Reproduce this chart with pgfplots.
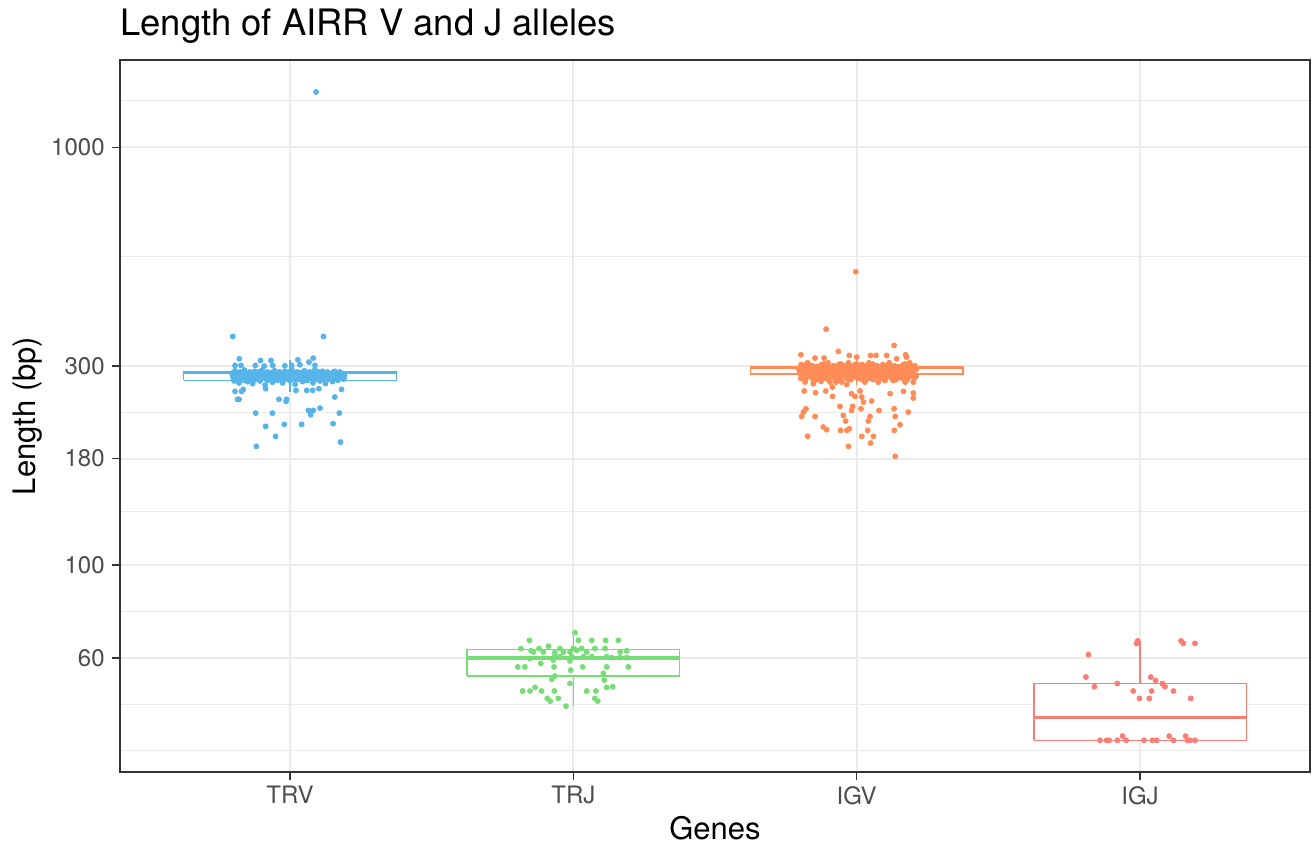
\documentclass[border=0pt]{standalone}
\usepackage{fontspec}
\setmainfont{TeX Gyre Heros}
\usepackage{pgfplots}
\pgfplotsset{compat=1.18}

\definecolor{cTRV}{RGB}{86,180,233}
\definecolor{cTRJ}{RGB}{119,221,119}
\definecolor{cIGV}{RGB}{255,140,87}
\definecolor{cIGJ}{RGB}{250,125,118}
\definecolor{gridc}{RGB}{235,235,235}
\definecolor{tickc}{RGB}{77,77,77}
\definecolor{framec}{RGB}{51,51,51}

\begin{document}
\begin{tikzpicture}
\begin{axis}[
  name=ax,
  scale only axis, width=595pt, height=356pt,
  xmin=0.4, xmax=4.6,
  ymode=log, log basis y=10, ymin=32, ymax=1618,
  xtick={1,2,3,4}, xticklabels={TRV,TRJ,IGV,IGJ},
  ytick={60,100,180,300,1000}, yticklabels={60,100,180,300,1000},
  minor ytick={36,46.48,77.46,134.16,232.38,547.72,1293},
  minor xtick={},
  xmajorgrids, ymajorgrids, yminorgrids,
  major grid style={draw=gridc, line width=1pt},
  minor grid style={draw=gridc, line width=0.55pt},
  tick align=outside, major tick length=4pt, minor tick length=0pt,
  xtick pos=bottom, ytick pos=left,
  tick style={draw=framec, line width=0.8pt},
  axis line style={draw=framec, line width=0.8pt},
  ticklabel style={font=\fontsize{12}{14}\selectfont, text=tickc, inner sep=0pt},
  xticklabel style={anchor=north, yshift=-3pt},
  yticklabel style={anchor=east, xshift=-3.5pt},
  title={Length of AIRR V and J alleles},
  title style={at={(axis description cs:0,1.0337)}, anchor=base west, yshift=-6pt, font=\fontsize{18.2}{22}\selectfont, inner sep=0pt},
  xlabel={Genes},
  xlabel style={at={(axis description cs:0.5,-0.0941)}, anchor=base, font=\fontsize{15.5}{18}\selectfont, inner sep=0pt},
  ylabel={Length (bp)},
  ylabel style={at={(axis description cs:-0.0714,0.5)}, anchor=base, font=\fontsize{15.5}{18}\selectfont, inner sep=0pt},
]
% ---- boxes: TRV (q1 277, med 289, q3 290.5, whiskers 260-309) ----
\addplot[cTRV, line width=0.75pt, fill=white] coordinates {(0.625,277)(1.375,277)(1.375,290.5)(0.625,290.5)(0.625,277)};
\addplot[cTRV, line width=0.75pt] coordinates {(1,290.5)(1,309)};
\addplot[cTRV, line width=0.75pt] coordinates {(1,277)(1,260)};
\addplot[cTRV, line width=1.6pt] coordinates {(0.625,289)(1.375,289)};
% TRJ (q1 54.3, med 60, q3 62.8, whiskers 46-69)
\addplot[cTRJ, line width=0.75pt, fill=white] coordinates {(1.625,54.3)(2.375,54.3)(2.375,62.8)(1.625,62.8)(1.625,54.3)};
\addplot[cTRJ, line width=0.75pt] coordinates {(2,62.8)(2,69)};
\addplot[cTRJ, line width=0.75pt] coordinates {(2,54.3)(2,46)};
\addplot[cTRJ, line width=1.6pt] coordinates {(1.625,60)(2.375,60)};
% IGV (q1 287, med 297, q3 299, whiskers 270-316)
\addplot[cIGV, line width=0.75pt, fill=white] coordinates {(2.625,287)(3.375,287)(3.375,299)(2.625,299)(2.625,287)};
\addplot[cIGV, line width=0.75pt] coordinates {(3,299)(3,316)};
\addplot[cIGV, line width=0.75pt] coordinates {(3,287)(3,270)};
\addplot[cIGV, line width=1.6pt] coordinates {(2.625,297)(3.375,297)};
% IGJ (q1 38.1, med 43.2, q3 52.1, whiskers 38.1-65.9)
\addplot[cIGJ, line width=0.75pt, fill=white] coordinates {(3.625,38.1)(4.375,38.1)(4.375,52.1)(3.625,52.1)(3.625,38.1)};
\addplot[cIGJ, line width=0.75pt] coordinates {(4,52.1)(4,65.9)};
\addplot[cIGJ, line width=1.6pt] coordinates {(3.625,43.2)(4.375,43.2)};

% ---- TRV points ----
\addplot[only marks, mark=*, mark size=1.25pt, color=cTRV] coordinates {
(0.798,352.7)(1.118,352.7)(0.821,311.9)(0.896,309.0)(0.933,309.0)(1.082,313.0)(1.028,310.1)(0.806,300.7)(0.827,300.7)(0.878,300.7)(0.909,299.6)(0.939,300.7)(0.982,300.0)(1.006,300.7)(1.035,301.8)(1.067,306.2)(1.088,300.7)
(0.806,260.6)(0.829,260.6)(0.835,263.5)(0.815,249.4)(0.820,249.4)(0.914,264.5)(0.961,249.4)(0.988,249.4)(0.986,246.6)(1.021,262.0)(1.059,262.0)(1.080,262.0)(1.102,264.5)(1.182,263.5)(1.158,252.6)(0.879,231.2)(0.938,231.2)(1.065,234.6)(1.082,234.6)(1.073,229.1)(1.106,237.7)(1.174,231.2)(0.914,214.9)(0.980,217.3)(1.041,217.3)(1.152,218.1)(0.949,203.4)(0.881,192.5)(1.178,197.1)(1.092,1357)
(0.795,288)(0.800,281)(0.803,276)(0.806,292)(0.810,284)(0.813,279)(0.817,287)(0.820,273)(0.824,290)(0.828,283)(0.831,286)(0.835,277)(0.839,293)(0.842,281)(0.846,288)(0.850,275)(0.853,285)(0.857,290)(0.861,280)(0.864,287)(0.868,272)(0.872,284)(0.875,291)(0.879,278)(0.883,286)(0.886,282)(0.890,289)(0.894,276)(0.897,285)(0.901,293)(0.905,281)(0.908,287)(0.912,270)(0.916,283)(0.919,290)(0.923,279)(0.927,286)(0.930,282)(0.934,289)(0.938,274)(0.941,284)(0.945,292)(0.949,280)(0.952,287)(0.956,277)(0.960,285)(0.963,290)(0.967,282)(0.971,288)(0.974,273)(0.978,284)(0.982,291)(0.985,279)(0.989,286)(0.993,283)(0.996,289)(1.000,276)(1.004,285)(1.007,293)(1.011,281)(1.015,287)(1.018,271)(1.022,284)(1.026,290)(1.029,279)(1.033,286)(1.037,282)(1.040,289)(1.044,275)(1.048,284)(1.051,292)(1.055,280)(1.059,287)(1.062,277)(1.066,285)(1.070,290)(1.073,282)(1.077,288)(1.081,273)(1.084,284)(1.088,294)(1.092,279)(1.095,286)(1.099,283)(1.103,289)(1.106,276)(1.110,285)(1.114,291)(1.117,281)(1.121,287)(1.125,272)(1.128,284)(1.132,290)(1.136,279)(1.139,286)(1.143,282)(1.147,288)(1.150,275)(1.154,284)(1.158,291)(1.161,280)(1.165,287)(1.169,277)(1.172,285)(1.176,290)(1.180,282)(1.184,286)(1.188,279)(1.192,284)
(0.798,284)(0.809,289)(0.821,280)(0.833,286)(0.844,283)(0.856,278)(0.866,289)(0.877,283)(0.888,279)(0.899,288)(0.910,285)(0.921,277)(0.932,287)(0.943,281)(0.954,289)(0.965,278)(0.976,286)(0.987,280)(0.998,288)(1.009,284)(1.020,278)(1.031,288)(1.042,283)(1.053,277)(1.064,289)(1.075,285)(1.086,280)(1.097,287)(1.108,282)(1.119,278)(1.130,288)(1.141,285)(1.152,279)(1.163,289)(1.174,283)(1.185,287)
(0.800,286)(0.808,282)(0.815,288)(0.823,279)(0.830,284)(0.838,290)(0.845,281)(0.853,286)(0.860,282)(0.868,288)(0.875,279)(0.883,284)(0.890,290)(0.898,281)(0.905,286)(0.913,282)(0.920,288)(0.928,279)(0.935,284)(0.943,290)(0.950,281)(0.958,286)(0.965,282)(0.973,288)(0.980,279)(0.988,284)(0.995,290)(1.003,281)(1.010,286)(1.018,282)(1.025,288)(1.033,279)(1.040,284)(1.048,290)(1.055,281)(1.063,286)(1.070,282)(1.078,288)(1.085,279)(1.093,284)(1.100,290)(1.108,281)(1.115,286)(1.123,282)(1.130,288)(1.138,279)(1.145,284)(1.153,290)(1.160,281)(1.168,286)(1.175,282)(1.183,288)(1.190,279)
};

% ---- TRJ points ----
\addplot[only marks, mark=*, mark size=1.25pt, color=cTRJ] coordinates {
(2.006,69.0)(1.845,66.1)(2.018,66.1)(2.065,66.1)(2.114,66.1)(2.159,66.1)
(1.815,63.2)(1.851,62.4)(1.879,63.2)(1.912,64.0)(1.953,63.2)(2.000,63.2)(2.029,63.2)(2.076,63.2)(2.112,63.2)(2.188,62.4)
(1.859,62.0)(1.894,62.0)(1.935,61.8)(1.965,62.0)(1.988,62.0)(2.012,62.6)(2.047,62.0)(2.165,62.0)
(1.847,59.8)(1.935,60.7)(1.953,60.4)(1.994,60.4)(2.035,60.4)(2.065,60.4)(2.118,60.4)(2.135,60.1)(2.165,60.1)(2.188,60.1)
(1.885,58.2)(1.929,59.3)(1.988,59.0)
(1.804,57.1)(1.829,57.1)(1.932,57.1)(2.033,57.1)(2.118,57.1)(2.194,57.1)
(1.991,56.1)(2.106,55.1)(1.935,54.3)(1.924,53.3)(2.109,53.1)(1.988,52.1)
(1.821,50.0)(1.847,50.0)(1.865,51.0)(1.888,50.0)(1.933,50.0)(2.047,50.0)(2.080,50.0)(2.118,51.0)(2.139,51.2)
(1.908,48.0)(1.918,47.3)(1.947,48.0)(2.076,48.0)(2.086,47.3)(1.974,46.0)
};

% ---- IGV points ----
\addplot[only marks, mark=*, mark size=1.25pt, color=cIGV] coordinates {
(2.997,503.6)(2.892,367.2)(3.132,335.8)(2.935,324.8)(2.803,318.8)(2.853,313.1)(2.885,313.1)(2.974,317.7)(3.000,314.8)(3.049,317.7)(3.068,317.7)(3.106,317.7)(3.173,318.8)(3.141,311.9)(3.176,314.8)
(2.795,296)(2.800,289)(2.804,302)(2.809,292)(2.813,285)(2.818,299)(2.822,294)(2.827,305)(2.831,287)(2.836,297)(2.840,291)(2.845,300)(2.849,283)(2.854,295)(2.858,298)(2.863,290)
(2.867,296)(2.872,289)(2.876,302)(2.881,292)(2.885,285)(2.890,299)(2.894,294)(2.899,305)(2.903,287)(2.908,297)(2.912,291)(2.917,300)(2.921,283)(2.926,295)(2.930,298)(2.935,290)
(2.939,296)(2.944,289)(2.948,302)(2.953,292)(2.957,285)(2.962,299)(2.966,294)(2.971,305)(2.975,287)(2.980,297)(2.984,291)(2.989,300)(2.993,283)(2.998,295)(3.002,298)(3.007,290)
(3.011,296)(3.016,289)(3.020,302)(3.025,292)(3.029,285)(3.034,299)(3.038,294)(3.043,305)(3.047,287)(3.052,297)(3.056,291)(3.061,300)(3.065,283)(3.070,295)(3.074,298)(3.079,290)
(3.083,296)(3.088,289)(3.092,302)(3.097,292)(3.101,285)(3.106,299)(3.110,294)(3.115,305)(3.119,287)(3.124,297)(3.128,291)(3.133,300)(3.137,283)(3.142,295)(3.146,298)(3.151,290)
(3.155,296)(3.160,289)(3.164,302)(3.169,292)(3.173,285)(3.178,299)(3.182,294)(3.187,305)(3.191,287)(3.196,297)(3.200,291)(3.205,300)(3.209,283)
(2.797,293)(2.802,287)(2.807,298)(2.813,281)(2.818,295)(2.823,290)(2.828,303)(2.833,286)(2.839,297)(2.844,292)(2.849,288)
(2.854,293)(2.859,287)(2.865,298)(2.870,281)(2.875,295)(2.880,290)(2.885,303)(2.891,286)(2.896,297)(2.901,292)(2.906,288)
(2.911,293)(2.917,287)(2.922,298)(2.927,281)(2.932,295)(2.937,290)(2.943,303)(2.948,286)(2.953,297)(2.958,292)(2.963,288)
(2.969,293)(2.974,287)(2.979,298)(2.984,281)(2.989,295)(2.995,290)(3.000,303)(3.005,286)(3.010,297)(3.015,292)(3.021,288)
(3.026,293)(3.031,287)(3.036,298)(3.041,281)(3.047,295)(3.052,290)(3.057,303)(3.062,286)(3.067,297)(3.073,292)(3.078,288)
(3.083,293)(3.088,287)(3.093,298)(3.099,281)(3.104,295)(3.109,290)(3.114,303)(3.119,286)(3.125,297)(3.130,292)(3.135,288)
(3.140,293)(3.145,287)(3.151,298)(3.156,281)(3.161,295)(3.166,290)(3.171,303)(3.177,286)(3.182,297)(3.187,292)(3.192,288)
(3.197,293)(3.203,287)(3.208,298)
(2.800,294)(2.807,299)(2.813,290)(2.820,302)(2.826,296)(2.833,288)(2.839,300)(2.846,292)(2.852,297)(2.859,294)(2.865,299)(2.872,290)(2.878,302)(2.885,296)(2.891,288)(2.898,300)(2.904,292)(2.911,297)(2.917,294)(2.924,299)(2.930,290)(2.937,302)(2.943,296)(2.950,288)(2.956,300)(2.963,292)(2.969,297)(2.976,294)(2.982,299)(2.989,290)(2.995,302)(3.002,296)
(3.008,288)(3.015,300)(3.021,292)(3.028,297)(3.034,294)(3.041,299)(3.047,290)(3.054,302)(3.060,296)(3.067,288)(3.073,300)(3.080,292)(3.086,297)(3.093,294)(3.099,299)(3.106,290)(3.112,302)(3.119,296)(3.125,288)(3.132,300)(3.138,292)(3.145,297)(3.151,294)(3.158,299)(3.164,290)(3.171,302)(3.177,296)(3.184,288)(3.190,300)(3.197,292)(3.203,297)(3.210,294)
(2.803,280)(2.811,284)(2.819,278)(2.827,283)(2.835,286)(2.843,280)(2.851,284)(2.859,278)(2.867,283)(2.875,286)(2.883,280)(2.891,284)(2.899,278)(2.907,283)(2.915,286)(2.923,280)(2.931,284)(2.939,278)(2.947,283)(2.955,286)(2.963,280)(2.971,284)(2.979,278)(2.987,283)(2.995,286)
(3.003,280)(3.011,284)(3.019,278)(3.027,283)(3.035,286)(3.043,280)(3.051,284)(3.059,278)(3.067,283)(3.075,286)(3.083,280)(3.091,284)(3.099,278)(3.107,283)(3.115,286)(3.123,280)(3.131,284)(3.139,278)(3.147,283)(3.155,286)(3.163,280)(3.171,284)(3.179,278)(3.187,283)(3.195,286)(3.203,280)
(2.818,274.3)(2.847,271.8)(2.874,275.5)(2.906,274.3)(2.927,274.3)(2.947,274.3)(2.976,277.8)(3.029,274.3)(3.076,274.3)(3.100,276.6)(3.129,276.6)(3.200,274.3)(3.171,274.3)
(2.815,261.1)(2.855,258.7)(2.891,261.1)(2.914,266.9)(2.965,270.7)(3.012,261.1)(3.118,257.3)(3.165,260.6)(3.200,258.2)(3.200,251.2)(2.915,253.5)(2.982,257.3)(2.994,253.5)(3.018,252.6)(3.024,245.7)(3.053,247.1)
(2.941,239.9)(2.986,239.9)(2.982,234.6)(3.015,236.8)(3.079,234.6)(3.132,236.8)(3.182,232.5)(2.821,236.8)(2.812,232.5)(2.806,227.0)(2.853,227.0)(2.953,228.3)(2.961,221.3)(3.047,227.0)(3.041,221.3)(3.136,227.0)(3.153,216.9)
(2.882,214.1)(2.894,211.0)(2.943,210.2)(2.965,210.2)(2.974,212.1)(3.039,210.2)(3.133,210.2)(2.827,203.4)(3.018,203.4)(3.059,203.4)(3.049,196.0)(2.971,192.5)(3.136,182.2)
};

% ---- IGJ points ----
\addplot[only marks, mark=*, mark size=1.25pt, color=cIGJ] coordinates {
(3.818,61.1)(3.992,65.9)(3.988,65.0)(4.145,65.9)(4.153,65.0)(4.194,65.0)
(3.809,54.0)(3.839,51.2)(3.920,52.1)(4.038,54.0)(4.055,53.0)(4.079,52.1)(4.088,51.2)
(3.976,50.0)(4.041,50.0)(4.118,50.0)(3.998,48.0)(4.033,48.0)(4.179,48.0)
(3.859,38.1)(3.882,38.1)(3.891,38.1)(3.920,38.1)(3.938,39.0)(3.951,38.1)(4.014,38.1)(4.044,38.1)(4.059,38.1)(4.103,39.0)(4.118,38.1)(4.161,39.0)(4.167,38.1)(4.177,38.1)(4.194,38.1)
};
\end{axis}
\path ([shift={(-60pt,-38pt)}]ax.south west) rectangle ([shift={(2.5pt,30pt)}]ax.north east);
\end{tikzpicture}
\end{document}
